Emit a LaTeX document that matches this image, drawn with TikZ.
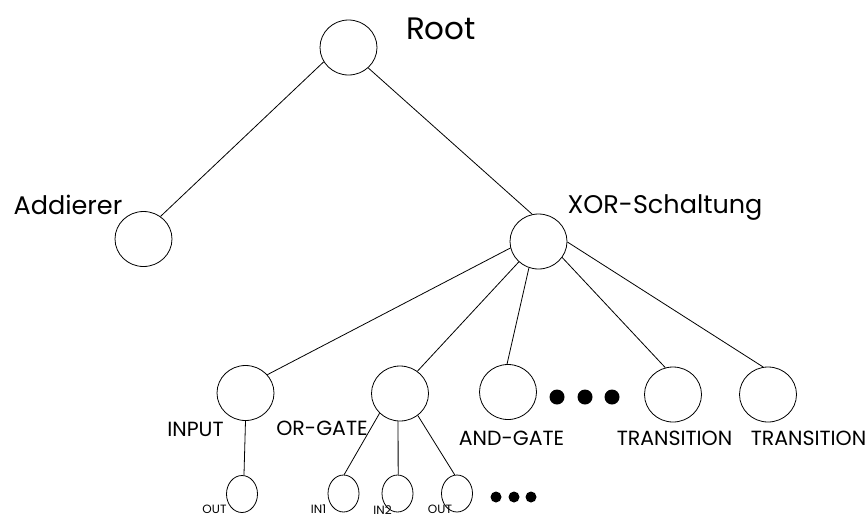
\documentclass[tikz,border=0pt]{standalone}
\usepackage{fontspec}
\setmainfont{Poppins}
\usetikzlibrary{shapes.geometric}
\begin{document}
\begin{tikzpicture}[x=1pt,y=-1pt,
  bignode/.style={draw,ellipse,line width=0.8pt,inner sep=0pt,minimum width=57pt,minimum height=55pt},
  leafnode/.style={draw,ellipse,line width=0.8pt,inner sep=0pt,minimum width=31pt,minimum height=37pt},
  edge/.style={line width=0.8pt},
  biglabel/.style={anchor=base,inner sep=0pt,font=\fontsize{25.5}{25.5}\selectfont},
  midlabel/.style={anchor=base,inner sep=0pt,font=\fontsize{20.5}{20.5}\selectfont},
  smalllabel/.style={anchor=base,inner sep=0pt,font=\fontsize{12}{12}\selectfont},
  bigdot/.style={circle,fill=black,inner sep=0pt,minimum size=15pt},
  smalldot/.style={circle,fill=black,inner sep=0pt,minimum size=11pt}]
\useasboundingbox (0,0) rectangle (866,517);

% tree nodes
\node[bignode] (root) at (348.5,47.5) {};
\node[bignode] (add)  at (143.5,239) {};
\node[bignode] (xor)  at (538.5,241.5) {};
\node[bignode] (inp)  at (245.5,393) {};
\node[bignode] (org)  at (400,393.5) {};
\node[bignode] (andg) at (508,392) {};
\node[bignode] (tr1)  at (673,394.5) {};
\node[bignode] (tr2)  at (768,394.5) {};
\node[leafnode] (o1)  at (242,494) {};
\node[leafnode] (in1) at (343.5,493.5) {};
\node[leafnode] (in2) at (397.5,493.5) {};
\node[leafnode] (o2)  at (457,493.5) {};

% ellipsis dots
\node[bigdot] (d1) at (557,397) {};
\node[bigdot] (d2) at (585,397) {};
\node[bigdot] (d3) at (612,397) {};
\node[smalldot] (e1) at (496,497) {};
\node[smalldot] (e2) at (514,497) {};
\node[smalldot] (e3) at (531,497) {};

% labels
\node[anchor=base,inner sep=0pt,font=\fontsize{31}{31}\selectfont] (lroot) at (441,39) {Root};
\node[biglabel] (ladd) at (68,214) {Addierer};
\node[biglabel] (lxor) at (665,213) {XOR-Schaltung};
\node[midlabel] (linp) at (195.5,436) {INPUT};
\node[midlabel] (lorg) at (322,435) {OR-GATE};
\node[midlabel] (land) at (511.5,445) {AND-GATE};
\node[midlabel] (ltr1) at (674.5,445) {TRANSITION};
\node[midlabel] (ltr2) at (808.5,445) {TRANSITION};
\node[smalllabel] (lo1) at (214.5,513.5) {OUT};
\node[smalllabel] (lin1) at (318.5,513.5) {IN1};
\node[smalllabel] (lin2) at (382.5,514) {IN2};
\node[smalllabel] (lo2) at (440,513.5) {OUT};

% connectors
\draw[edge] (root.210) -- (add.53);
\draw[edge] (root.314) -- (xor.103);
\draw[edge] (xor.193) -- (inp.40);
\draw[edge] (xor.226) -- (org.52);
\draw[edge] (xor.250) -- (andg.92);
\draw[edge] (xor.326) -- (tr1.106);
\draw[edge] (xor.359) -- (tr2.100);
\draw[edge] (inp.270) -- (o1.84);
\draw[edge] (org.224) -- (in1.88);
\draw[edge] (org.266) -- (in2.88);
\draw[edge] (org.309) -- (o2.97);
\end{tikzpicture}
\end{document}
